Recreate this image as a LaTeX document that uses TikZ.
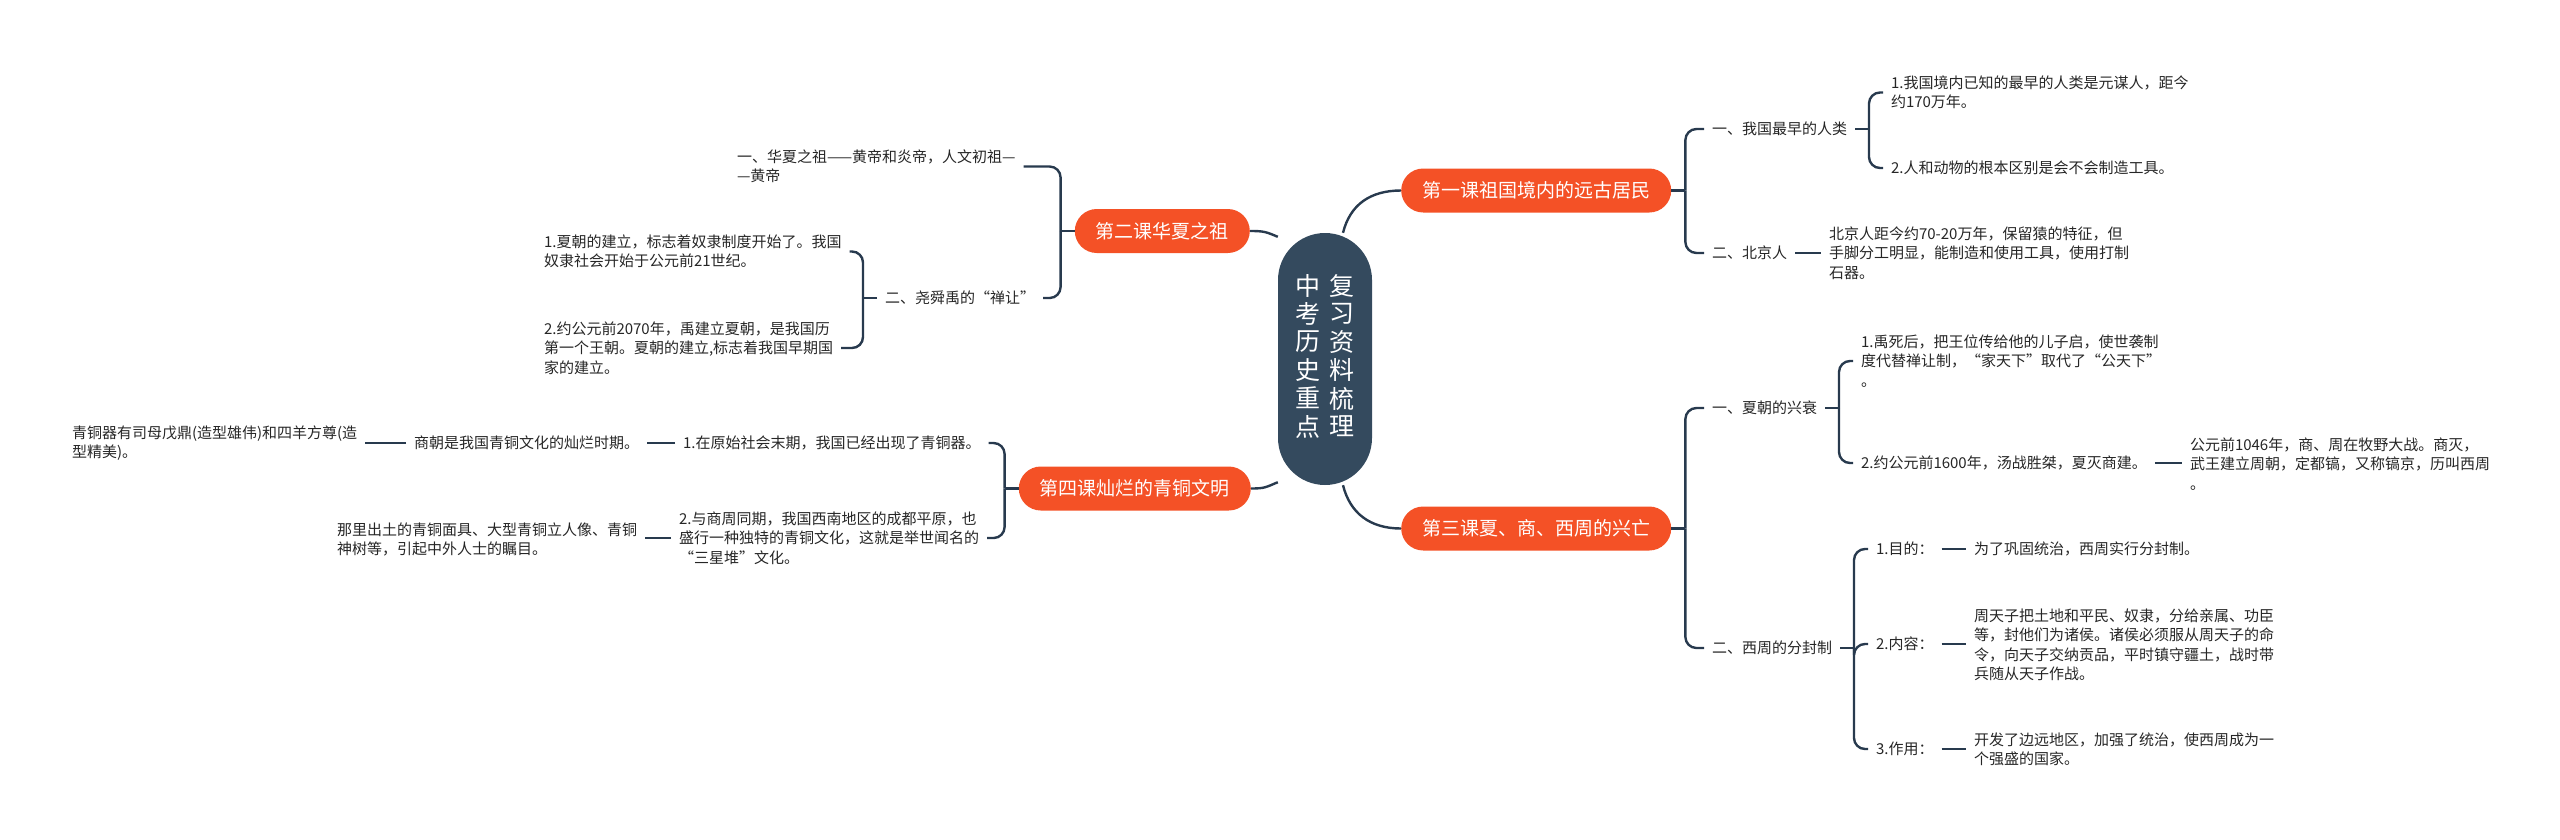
\documentclass[tikz,border=0pt]{standalone}
\usepackage{fontspec}
\setmainfont{Noto Sans CJK SC}
\usepackage{xcolor}
\usepackage{tikz}
\definecolor{orng}{HTML}{F45126}
\definecolor{slate}{HTML}{344A5E}
\definecolor{wire}{HTML}{283A4E}

\begin{document}
\begin{tikzpicture}[x=1pt, y=-1pt,
  font=\fontsize{15}{19.5}\selectfont,
  root/.style={fill=slate, text=white, rounded corners=47pt, minimum width=94pt, minimum height=252pt, inner sep=0pt, font=\fontsize{25}{25.2}\selectfont},
  topic/.style={fill=orng, text=white, rounded corners=22pt, minimum height=44pt, inner xsep=21pt, inner ysep=0pt, font=\fontsize{19}{23}\selectfont},
  leaf/.style={align=left, inner sep=0pt, outer xsep=8pt, text=black!85},
  conn/.style={draw=wire, line width=2.4pt},
  brk/.style={conn, rounded corners=11pt},
]
\useasboundingbox (0,0) rectangle (2560,839);
% centre and lessons
\node[root] (root) at (1325,359) {\begin{tabular}{@{}c@{}}中\\考\\历\\史\\重\\点\end{tabular}\hspace{9pt}\begin{tabular}{@{}c@{}}复\\习\\资\\料\\梳\\理\end{tabular}};
\node[topic, anchor=west] (n1) at (1401,190.5) {第一课祖国境内的远古居民};
\node[topic, anchor=east] (n2) at (1250,231) {第二课华夏之祖};
\node[topic, anchor=west] (n3) at (1401,528.5) {第三课夏、商、西周的兴亡};
\node[topic, anchor=east] (n4) at (1251,488.5) {第四课灿烂的青铜文明};
% lesson 1
\node[leaf, anchor=west] (r11) at (1704,129) {一、我国最早的人类};
\node[leaf, anchor=west] (r12) at (1704,253) {二、北京人};
\node[leaf, anchor=west] (r111) at (1883,92.5) {1.我国境内已知的最早的人类是元谋人，距今\\约170万年。};
\node[leaf, anchor=west] (r112) at (1883,168) {2.人和动物的根本区别是会不会制造工具。};
\node[leaf, anchor=west] (r121) at (1821,253) {北京人距今约70-20万年，保留猿的特征，但\\手脚分工明显，能制造和使用工具，使用打制\\石器。};
% lesson 3
\node[leaf, anchor=west] (r31) at (1704,408) {一、夏朝的兴衰};
\node[leaf, anchor=west] (r32) at (1704,648) {二、西周的分封制};
\node[leaf, anchor=west] (r311) at (1853,361) {1.禹死后，把王位传给他的儿子启，使世袭制\\度代替禅让制，“家天下”取代了“公天下”\\。};
\node[leaf, anchor=west] (r312) at (1853,463) {2.约公元前1600年，汤战胜桀，夏灭商建。};
\node[leaf, anchor=west] (r3121) at (2182,464) {公元前1046年，商、周在牧野大战。商灭，\\武王建立周朝，定都镐，又称镐京，历叫西周\\。};
\node[leaf, anchor=west] (r321) at (1868,549) {1.目的：};
\node[leaf, anchor=west] (r322) at (1868,644) {2.内容：};
\node[leaf, anchor=west] (r323) at (1868,749) {3.作用：};
\node[leaf, anchor=west] (r3211) at (1966,549) {为了巩固统治，西周实行分封制。};
\node[leaf, anchor=west] (r3221) at (1966,645) {周天子把土地和平民、奴隶，分给亲属、功臣\\等，封他们为诸侯。诸侯必须服从周天子的命\\令，向天子交纳贡品，平时镇守疆土，战时带\\兵随从天子作战。};
\node[leaf, anchor=west] (r3231) at (1966,749.5) {开发了边远地区，加强了统治，使西周成为一\\个强盛的国家。};
% lesson 2
\node[leaf, anchor=west] (l21) at (729,166.5) {一、华夏之祖——黄帝和炎帝，人文初祖—\\—黄帝};
\node[leaf, anchor=west] (l22) at (877,298) {二、尧舜禹的“禅让”};
\node[leaf, anchor=west] (l221) at (536,251.5) {1.夏朝的建立，标志着奴隶制度开始了。我国\\奴隶社会开始于公元前21世纪。};
\node[leaf, anchor=west] (l222) at (536,348) {2.约公元前2070年，禹建立夏朝，是我国历\\第一个王朝。夏朝的建立,标志着我国早期国\\家的建立。};
% lesson 4
\node[leaf, anchor=west] (l41) at (675,443) {1.在原始社会末期，我国已经出现了青铜器。};
\node[leaf, anchor=west] (l42) at (671,538) {2.与商周同期，我国西南地区的成都平原，也\\盛行一种独特的青铜文化，这就是举世闻名的\\“三星堆”文化。};
\node[leaf, anchor=west] (l411) at (406,443) {商朝是我国青铜文化的灿烂时期。};
\node[leaf, anchor=west] (l4111) at (64,443) {青铜器有司母戊鼎(造型雄伟)和四羊方尊(造\\型精美)。};
\node[leaf, anchor=west] (l421) at (329,539.5) {那里出土的青铜面具、大型青铜立人像、青铜\\神树等，引起中外人士的瞩目。};
% centre to lessons
\draw[conn] ([xshift=18pt]root.north) .. controls +(7,-28) and +(-31,0) .. (n1.west);
\draw[conn] ([xshift=18pt]root.south) .. controls +(7,28) and +(-31,0) .. (n3.west);
\draw[conn] ([yshift=-4pt]root.north west) .. controls +(-12,-5) and +(14,0) .. (n2.east);
\draw[conn] ([yshift=3pt]root.south west) .. controls +(-12,5) and +(14,0) .. (n4.east);
% right brackets
\draw[conn] (n1.east) -- ++(14,0) coordinate (b1);
\draw[brk] (b1) |- (r11.west);
\draw[brk] (b1) |- (r12.west);
\draw[conn] (r11.east) -- ++(14,0) coordinate (b11);
\draw[brk] (b11) |- (r111.west);
\draw[brk] (b11) |- (r112.west);
\draw[conn] (r12.east) -- (r121.west);
\draw[conn] (n3.east) -- ++(14,0) coordinate (b3);
\draw[brk] (b3) |- (r31.west);
\draw[brk] (b3) |- (r32.west);
\draw[conn] (r31.east) -- ++(14,0) coordinate (b31);
\draw[brk] (b31) |- (r311.west);
\draw[brk] (b31) |- (r312.west);
\draw[conn] (r312.east) -- (r3121.west |- r312.east);
\draw[conn] (r32.east) -- ++(14,0) coordinate (b32);
\draw[brk] (b32) |- (r321.west);
\draw[brk] (b32) |- (r322.west);
\draw[brk] (b32) |- (r323.west);
\draw[conn] (r321.east) -- (r3211.west |- r321.east);
\draw[conn] (r322.east) -- (r3221.west |- r322.east);
\draw[conn] (r323.east) -- (r3231.west |- r323.east);
% left brackets
\draw[conn] (n2.west) -- ++(-14,0) coordinate (b2);
\draw[brk] (b2) |- (l21.east);
\draw[brk] (b2) |- (l22.east);
\draw[conn] (l22.west) -- ++(-14,0) coordinate (b22);
\draw[brk] (b22) |- (l221.east);
\draw[brk] (b22) |- (l222.east);
\draw[conn] (n4.west) -- ++(-14,0) coordinate (b4);
\draw[brk] (b4) |- (l41.east);
\draw[brk] (b4) |- (l42.east);
\draw[conn] (l41.west) -- (l411.east |- l41.west);
\draw[conn] (l411.west) -- (l4111.east |- l411.west);
\draw[conn] (l42.west) -- (l421.east |- l42.west);
\end{tikzpicture}
\end{document}
